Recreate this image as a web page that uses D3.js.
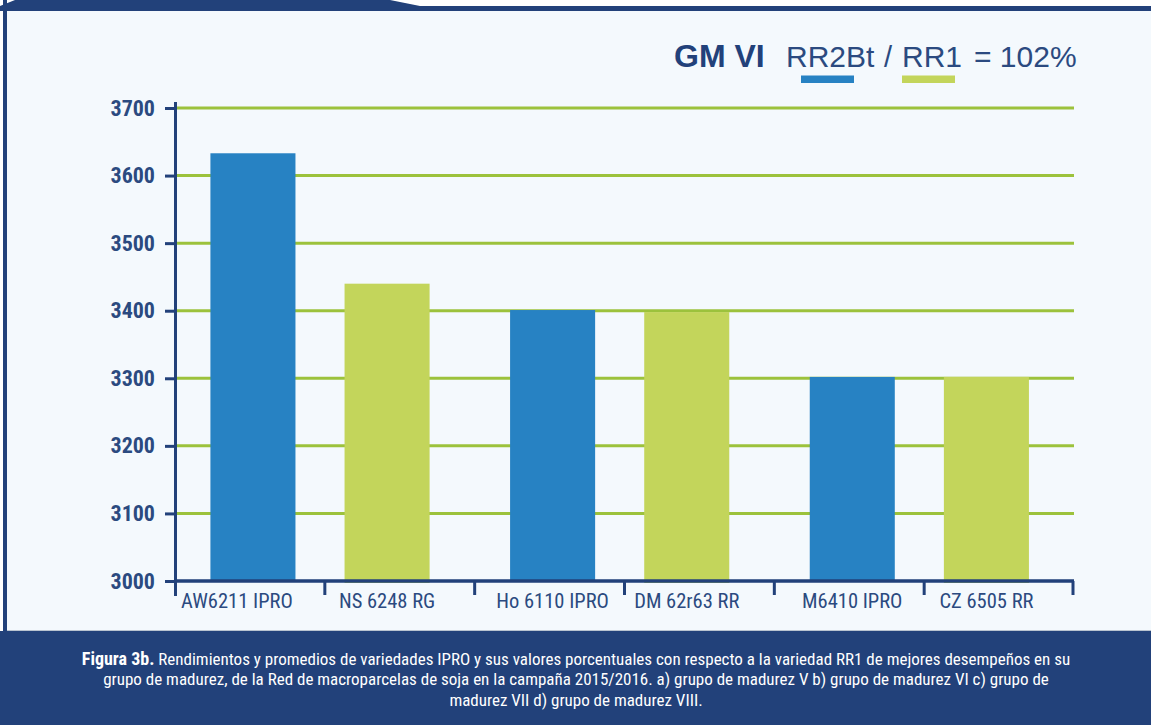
<!DOCTYPE html>
<html>
<head>
<meta charset="utf-8">
<script src="https://cdn.jsdelivr.net/npm/d3@7"></script>
<style>
  body { margin: 0; background: #ffffff; }
  svg { display: block; }
  .narrow { font-family: "Liberation Sans Narrow", "Arial Narrow", "Roboto Condensed", sans-serif; font-stretch: condensed; }
</style>
</head>
<body>
<div id="chart"></div>
<script>
// data
const varieties = ["AW6211 IPRO", "NS 6248 RG", "Ho 6110 IPRO", "DM 62r63 RR", "M6410 IPRO", "CZ 6505 RR"];
const groups = ["g1", "g1", "g2", "g2", "g3", "g3"];
const types = ["RR2Bt", "RR1", "RR2Bt", "RR1", "RR2Bt", "RR1"];
const yields = [3633, 3440, 3401, 3398, 3302, 3302];
const yTicks = [3000, 3100, 3200, 3300, 3400, 3500, 3600, 3700];
const legendTitle = "GM VI";
const ratioLabel = "= 102%";
const captionBold = "Figura 3b.";
const captionLines = [
  " Rendimientos y promedios de variedades IPRO y sus valores porcentuales con respecto a la variedad RR1 de mejores desempeños en su",
  "grupo de madurez, de la Red de macroparcelas de soja en la campaña 2015/2016.  a) grupo de madurez V b) grupo de madurez VI c) grupo de",
  "madurez VII d) grupo de madurez VIII."
];

const width = 1151, height = 725;
const margin = {top: 108, right: 77, bottom: 144, left: 175};
const dark = "#22417a";
const textBlue = "#2b4a80";
const colors = {RR2Bt: "#2782c3", RR1: "#c3d55b"};
const gridColor = "#9cc23c";

const svg = d3.select("#chart").append("svg")
  .attr("width", width)
  .attr("height", height);

// frame: header strip, left border, panel, caption band
svg.append("rect").attr("x", 7).attr("y", 11).attr("width", width - 7).attr("height", 619).attr("fill", "#f4f9fd");
svg.append("path")
  .attr("d", `M0,6 L15,0 H390 L420,6 H${width} V11 H0 Z`)
  .attr("fill", dark);
svg.append("rect").attr("x", 3).attr("y", 0).attr("width", 4).attr("height", 632).attr("fill", dark);
svg.append("line").attr("x1", 7).attr("x2", width).attr("y1", 630.5).attr("y2", 630.5)
  .attr("stroke", "#b9c3d0").attr("stroke-width", 1);
svg.append("rect").attr("x", 0).attr("y", 631).attr("width", width).attr("height", height - 631).attr("fill", dark);

// scales
const x0 = margin.left, x1 = 1074;
const yBottom = 581;
const y = d3.scaleLinear().domain([3000, 3700]).range([yBottom, margin.top]);

const xBand = d3.scaleBand().domain(varieties).range([x0, x1]);
const xGroup = d3.scaleBand().domain(["g1", "g2", "g3"]).range([x0, x1]);
const xInner = d3.scaleBand().domain(["RR2Bt", "RR1"])
  .range([0, xGroup.bandwidth()])
  .paddingInner(0.366)
  .paddingOuter(0.3)
  .align(0.44);

const rows = varieties.map((v, i) => ({name: v, group: groups[i], type: types[i], value: yields[i]}));
const barX = d => xGroup(d.group) + xInner(d.type);

// grid
svg.append("g")
  .selectAll("line")
  .data(yTicks.filter(t => t > 3000))
  .join("line")
  .attr("x1", x0).attr("x2", x1)
  .attr("y1", d => y(d)).attr("y2", d => y(d))
  .attr("stroke", gridColor)
  .attr("stroke-width", 3);

// bars
svg.append("g")
  .selectAll("rect")
  .data(rows)
  .join("rect")
  .attr("x", barX)
  .attr("y", d => y(d.value))
  .attr("width", xInner.bandwidth())
  .attr("height", d => yBottom - y(d.value) + (d.type === "RR1" ? 2 : 0))
  .attr("fill", d => colors[d.type]);

// y axis
const yAxis = svg.append("g")
  .attr("transform", `translate(${x0},0)`)
  .call(d3.axisLeft(y).tickValues(yTicks).tickSize(10).tickPadding(10).tickFormat(d3.format("d")));
yAxis.select(".domain").remove();
yAxis.selectAll(".tick line").attr("stroke", dark).attr("stroke-width", 3);
yAxis.selectAll(".tick text")
  .attr("class", "narrow")
  .attr("fill", textBlue)
  .attr("font-size", 22)
  .attr("font-weight", "bold");
svg.append("line")
  .attr("x1", x0 + 0.5).attr("x2", x0 + 0.5)
  .attr("y1", 102).attr("y2", 596)
  .attr("stroke", dark).attr("stroke-width", 3);

// x axis
svg.append("line")
  .attr("x1", x0).attr("x2", x1)
  .attr("y1", yBottom).attr("y2", yBottom)
  .attr("stroke", dark).attr("stroke-width", 3.5);
svg.append("g")
  .selectAll("line")
  .data(varieties.slice(1).map(v => xBand(v)).concat([x1 - 1]))
  .join("line")
  .attr("x1", d => d).attr("x2", d => d)
  .attr("y1", yBottom).attr("y2", 595)
  .attr("stroke", dark).attr("stroke-width", 3);
svg.append("g")
  .selectAll("text")
  .data(rows)
  .join("text")
  .attr("class", "narrow")
  .attr("x", d => barX(d) + xInner.bandwidth() / 2 - (d.name === varieties[0] ? 16 : 0))
  .attr("y", 608)
  .attr("text-anchor", "middle")
  .attr("fill", textBlue)
  .attr("font-size", 20.5)
  .text(d => d.name);

// legend
const legend = svg.append("g").attr("font-family", "Liberation Sans, Arial, sans-serif").attr("fill", dark);
legend.append("text").attr("x", 674).attr("y", 67).attr("font-size", 32).attr("font-weight", "bold").text(legendTitle);
legend.append("text").attr("x", 786).attr("y", 67).attr("font-size", 30).attr("fill", textBlue).text("RR2Bt");
legend.append("text").attr("x", 884).attr("y", 67).attr("font-size", 29).attr("fill", textBlue).text("/");
legend.append("text").attr("x", 902).attr("y", 67).attr("font-size", 30).attr("fill", textBlue).text("RR1");
legend.append("text").attr("x", 974).attr("y", 67).attr("font-size", 30).attr("fill", textBlue).text(ratioLabel);
legend.append("rect").attr("x", 801).attr("y", 75.5).attr("width", 53).attr("height", 7.5).attr("fill", colors.RR2Bt);
legend.append("rect").attr("x", 902).attr("y", 75.5).attr("width", 53).attr("height", 7.5).attr("fill", colors.RR1);

// caption
const caption = svg.append("g")
  .attr("class", "narrow")
  .attr("fill", "#ffffff")
  .attr("font-size", 17)
  .attr("text-anchor", "middle");
const first = caption.append("text").attr("x", 576).attr("y", 665);
first.append("tspan").attr("font-weight", "bold").attr("font-size", 18).text(captionBold);
first.append("tspan").text(captionLines[0]);
caption.append("text").attr("x", 576).attr("y", 685).text(captionLines[1]);
caption.append("text").attr("x", 576).attr("y", 706).text(captionLines[2]);
</script>
</body>
</html>
